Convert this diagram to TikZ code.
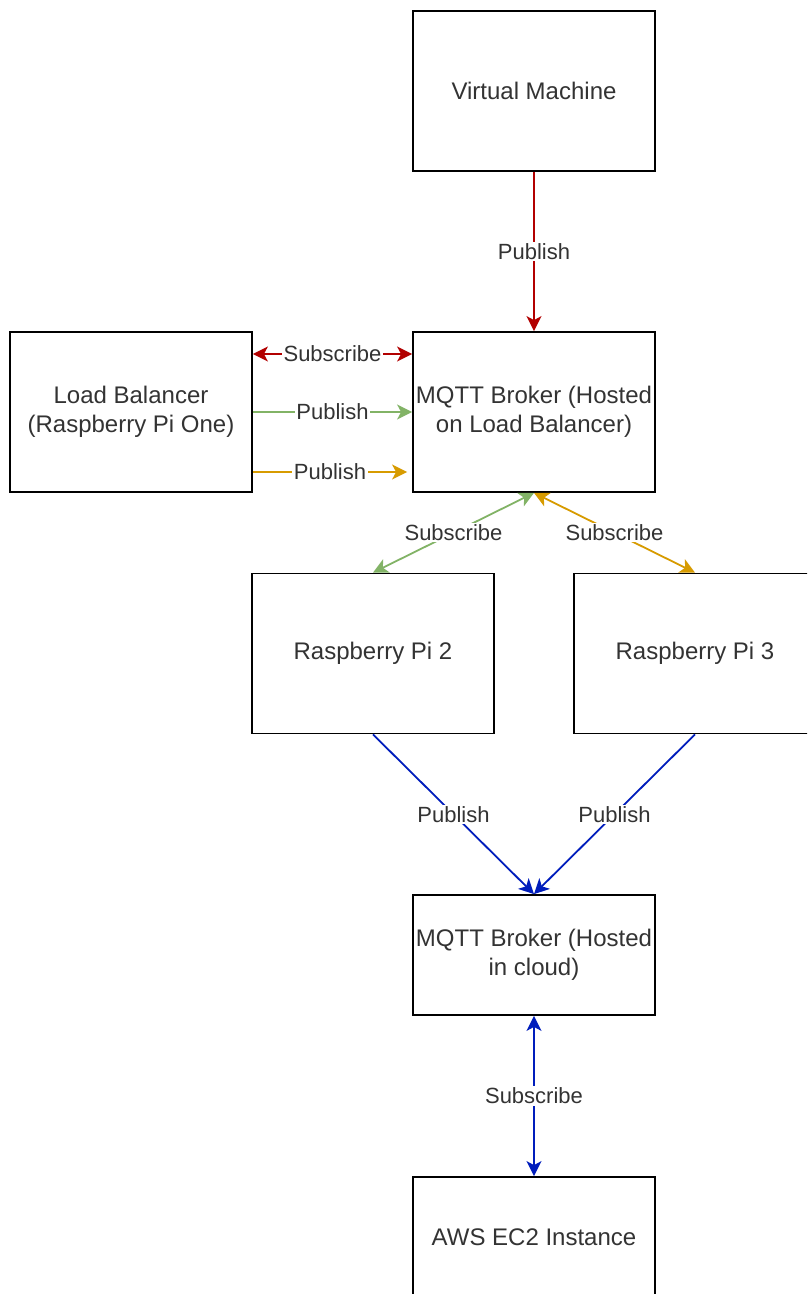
\documentclass[tikz,border=0pt]{standalone}
\usepackage{fontspec}
\setmainfont{Liberation Sans}
\usetikzlibrary{arrows.meta}
\definecolor{dred}{HTML}{B20000}
\definecolor{dgreen}{HTML}{82B366}
\definecolor{dorange}{HTML}{D79B00}
\definecolor{dblue}{HTML}{001DBC}
\definecolor{txt}{HTML}{333333}
\tikzset{
  box/.style={draw=black, line width=1.8pt, minimum width=242pt, minimum height=160pt,
    inner sep=0pt, align=center, text=txt, font=\fontsize{24}{29}\selectfont},
  lbl/.style={fill=white, inner sep=1.5pt, text=txt, font=\fontsize{22}{26}\selectfont},
  tip/.style={-{Stealth[length=15pt,width=15pt,inset=4pt]}},
  dtip/.style={{Stealth[length=15pt,width=15pt,inset=4pt]}-{Stealth[length=15pt,width=15pt,inset=4pt]}},
  conn/.style={line width=1.8pt}
}
\begin{document}
\begin{tikzpicture}[x=1pt,y=-1pt]
\useasboundingbox (0,0) rectangle (807,1294);
\clip (0,0) rectangle (807,1294);
\fill[white] (0,0) rectangle (807,1294);
\node[box] (vm) at (534,91) {Virtual Machine};
\node[box] (lb) at (131,412) {Load Balancer\\(Raspberry Pi One)};
\node[box] (br) at (534,412) {MQTT Broker (Hosted\\on Load Balancer)};
\node[box] (p2) at (373,653.5) {Raspberry Pi 2};
\node[box] (p3) at (695,653.5) {Raspberry Pi 3};
\node[box, minimum height=120pt] (cl) at (534,955) {MQTT Broker (Hosted\\in cloud)};
\node[box, minimum height=120pt] (aws) at (534,1237) {AWS EC2 Instance};

\coordinate (lbA) at (lb.east |- 0,354);
\coordinate (brA) at (br.west |- 0,354);
\coordinate (lbB) at (lb.east |- 0,412);
\coordinate (brB) at (br.west |- 0,412);
\coordinate (lbC) at (lb.east |- 0,472);
\coordinate (brC) at ([xshift=-5pt]br.west |- 0,472);

\draw[conn, dred, tip] (vm.south) -- node[lbl] {Publish} (br.north);
\draw[conn, dred, dtip] (lbA) -- node[lbl] {Subscribe} (brA);
\draw[conn, dgreen, tip] (lbB) -- node[lbl] {Publish} (brB);
\draw[conn, dorange, tip] (lbC) -- node[lbl] {Publish} (brC);
\draw[conn, dgreen, dtip] (p2.north) -- node[lbl] {Subscribe} (br.south);
\draw[conn, dorange, dtip] (p3.north) -- node[lbl] {Subscribe} (br.south);
\draw[conn, dblue, tip] (p2.south) -- node[lbl] {Publish} (cl.north);
\draw[conn, dblue, tip] (p3.south) -- node[lbl] {Publish} (cl.north);
\draw[conn, dblue, dtip] (cl.south) -- node[lbl] {Subscribe} (aws.north);
\end{tikzpicture}
\end{document}
